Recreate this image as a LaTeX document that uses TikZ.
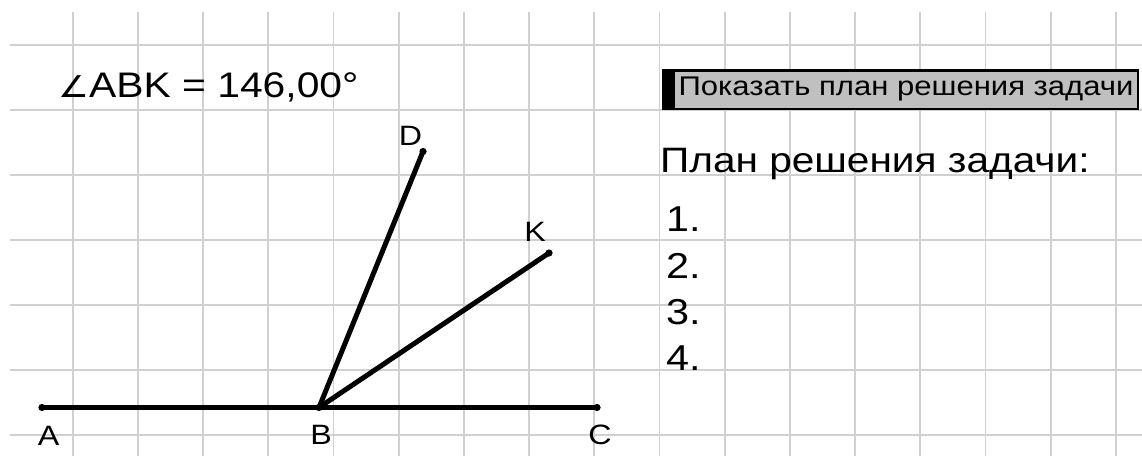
\documentclass[tikz,border=0pt]{standalone}
\usepackage{fontspec}
\setmainfont{Liberation Sans}
\newfontfamily\dejavu{DejaVu Sans}
\newcommand\hs[1]{\scalebox{1.15}[1]{#1}}
\definecolor{gridc}{RGB}{208,208,208}
\definecolor{btngray}{RGB}{192,192,192}
\begin{document}
\begin{tikzpicture}[x=1pt,y=-1pt,
  gridline/.style={draw=gridc,line width=1.8pt},
  seg/.style={line width=5pt,line cap=round},
  pt/.style={fill=black},
  lbl/.style={anchor=base,inner sep=0pt,font=\fontsize{28}{30}\selectfont},
  bigtxt/.style={anchor=base west,inner sep=0pt,font=\fontsize{35.3}{42}\selectfont},
  numtxt/.style={anchor=base west,inner sep=0pt,font=\fontsize{36}{42}\selectfont}]
\useasboundingbox (0,0) rectangle (1142,456);
\fill[white] (0,0) rectangle (1142,456);
% grid
\foreach \i in {0,...,16} \draw[gridline] ({72.7+65.2*\i},12) -- ({72.7+65.2*\i},456);
\foreach \j in {0,...,6} \draw[gridline] (10,{45+65*\j}) -- (1142,{45+65*\j});
% points
\coordinate (A) at (42,407.5);
\coordinate (B) at (319,407.5);
\coordinate (C) at (597,407.5);
\coordinate (D) at (423,151.5);
\coordinate (K) at (549,253);
\draw[seg] (A) -- (C);
\draw[seg] (B) -- (D);
\draw[seg] (B) -- (K);
\foreach \p in {A,B,C,D,K} \fill[pt] (\p) circle (3.6);
% labels
\node[lbl] (labA) at (48.5,445) {\hs{A}};
\node[lbl] (labB) at (321,444.5) {\hs{B}};
\node[lbl] (labC) at (600,444) {\hs{C}};
\node[lbl] (labD) at (410.5,145) {\hs{D}};
\node[lbl] (labK) at (535,241) {\hs{K}};
% angle text
\node[anchor=base west,inner sep=0pt,font=\fontsize{35.5}{40}\selectfont] (angle) at (58,97) {\hs{{\dejavu\fontsize{30}{36}\selectfont ∠}ABK = 146,00°}};
% button
\node[fill=black,minimum width=477,minimum height=41,inner sep=0pt] (btnframe) at (900.5,89.5) {};
\node[fill=btngray,draw=black,line width=1pt,minimum width=463,minimum height=37,inner sep=0pt,anchor=west,font=\fontsize{27}{30}\selectfont] (btn) at (674,89.5) {\hs{Показать план решения задачи}};
% plan
\node[bigtxt] (plan) at (660,172) {\hs{План решения задачи:}};
\node[numtxt] (n1) at (666,231.5) {\hs{1.}};
\node[numtxt] (n2) at (666,278) {\hs{2.}};
\node[numtxt] (n3) at (666,324.5) {\hs{3.}};
\node[numtxt] (n4) at (666,370) {\hs{4.}};
\end{tikzpicture}
\end{document}
